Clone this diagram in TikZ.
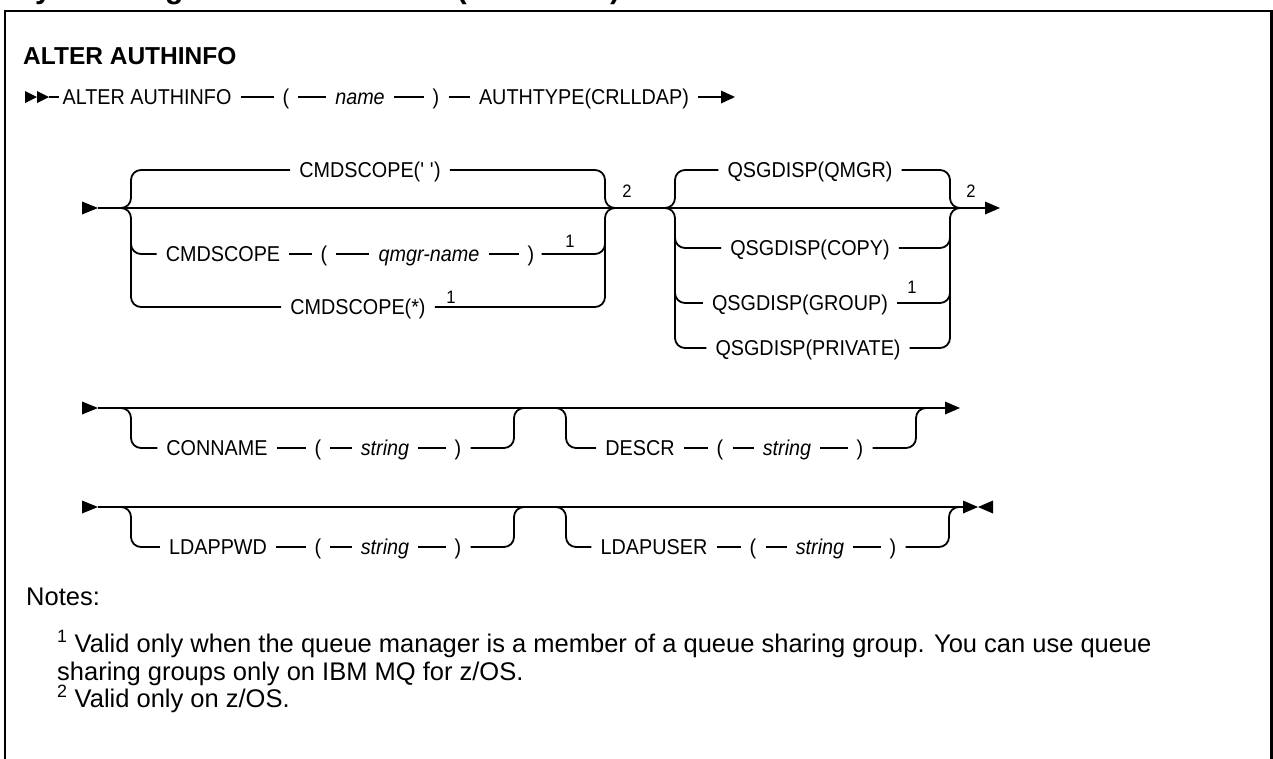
\documentclass[tikz,border=0pt]{standalone}
\usepackage{fontspec}
\setmainfont{Liberation Sans}
\newfontfamily\dgfam[FakeStretch=0.92]{Liberation Sans}
\newcommand\dgfont{\dgfam\fontsize{21.5}{26}\selectfont}
\newcommand\dgsup{\dgfam\fontsize{18}{21}\selectfont}
\newcommand\hdfont{\fontsize{24.5}{29}\selectfont\bfseries}
\newcommand\ttlfont{\fontsize{30}{36}\selectfont\bfseries}
\newcommand\ntfont{\fontsize{25.5}{30}\selectfont}
\begin{document}
\begin{tikzpicture}[x=1pt,y=-1pt,
  kw/.style={inner sep=0pt,text height=15.4pt,text depth=0pt,font=\dgfont},
  var/.style={kw,font=\dgfont\itshape},
  supn/.style={inner sep=0pt,font=\dgsup},
  txt/.style={anchor=base west,inner sep=0pt,font=\ntfont},
  ln/.style={line width=1.8pt},
  seg/.style={ln,shorten <=9pt,shorten >=9pt},
  rc/.style={ln,rounded corners=10pt}]
\useasboundingbox (0,0) rectangle (1273,758);
% frame
\draw[line width=2.5pt] (5,800) -- (5,11) -- (1271.5,11) -- (1271.5,800);
\node[anchor=base west,inner sep=0pt,font=\ttlfont] (title) at (15,-2) {Syntax diagram for AUTHTYPE(CRLLDAP)};
\node[anchor=base west,inner sep=0pt,font=\hdfont] (head) at (23,64) {ALTER AUTHINFO};

% ---------- line 1 ----------
\coordinate (m1) at (37,97);
\coordinate (m2) at (49,97);
\fill (m1) -- ++(-12,-6) -- ++(0,12) -- cycle;
\fill (m2) -- ++(-12,-6) -- ++(0,12) -- cycle;
\node[kw] (a1) at (147,97) {ALTER AUTHINFO};
\node[kw] (a2) at (286,97) {(};
\node[var] (a3) at (360,97) {name};
\node[kw] (a4) at (436,97) {)};
\node[kw] (a5) at (584,97) {AUTHTYPE(CRLLDAP)};
\coordinate (a6b) at (721,97);
\coordinate (a6) at (735,97);
\draw[ln,shorten >=3pt] (m2) -- (a1.west);
\draw[seg] (a1) -- (a2);
\draw[seg] (a2) -- (a3);
\draw[seg] (a3) -- (a4);
\draw[seg] (a4) -- (a5);
\draw[ln,shorten <=9pt] (a5.east) -- (a6b);
\fill (a6) -- ++(-14,-6.5) -- ++(0,13) -- cycle;

% ---------- line 2: CMDSCOPE / QSGDISP ----------
\coordinate (b0) at (98,208);
\coordinate (b9b) at (986,208);
\coordinate (b9) at (1000,208);
\fill (b0) -- ++(-16,-6.5) -- ++(0,13) -- cycle;
\draw[ln] (b0) -- (b9b);
\fill (b9) -- ++(-15,-6.5) -- ++(0,13) -- cycle;

% group 1
\coordinate (g1j) at (120,208);
\coordinate (g1t) at (131,170);
\coordinate (g1m) at (131,230);
\coordinate (g1b) at (131,307);
\coordinate (g1r) at (605,208);
\coordinate (g1rm) at (605,230);
\coordinate (g1o) at (616,208);
\node[kw] (c1) at (370,170) {CMDSCOPE(\textquotesingle\ \textquotesingle)};
\node[kw] (c2a) at (223,254) {CMDSCOPE};
\node[kw] (c2b) at (324,254) {(};
\node[var] (c2c) at (429,254) {qmgr-name};
\node[kw] (c2d) at (531,254) {)};
\node[supn] (c2s) at (570,241) {1};
\node[kw] (c3) at (358,307) {CMDSCOPE(*)};
\node[supn] (c3s) at (451,297) {1};
\node[supn] (g1n) at (627,191) {2};
\draw[rc,shorten >=9pt] (g1j) -| (g1t) -- (c1.west);
\draw[rc,shorten <=9pt] (c1.east) -| (g1r) -- (g1o);
\draw[rc,shorten >=9pt] (g1m) |- (c2a.west);
\draw[seg] (c2a) -- (c2b);
\draw[seg] (c2b) -- (c2c);
\draw[seg] (c2c) -- (c2d);
\draw[rc,shorten <=7pt] (c2d.east) -| (g1rm);
\draw[rc,shorten >=9pt] (g1j) -| (g1b) -- (c3.west);
\draw[rc,shorten <=9pt] (c3.east) -| (g1r) -- (g1o);

% group 2
\coordinate (g2j) at (664,208);
\coordinate (g2t) at (675,170);
\coordinate (g2m) at (675,230);
\coordinate (g2b) at (675,348);
\coordinate (g2r) at (950,208);
\coordinate (g2rm) at (950,230);
\coordinate (g2o) at (961,208);
\node[kw] (q1) at (810,170) {QSGDISP(QMGR)};
\node[kw] (q2) at (810,248) {QSGDISP(COPY)};
\node[kw] (q3) at (800,303) {QSGDISP(GROUP)};
\node[supn] (q3s) at (912,287) {1};
\node[kw] (q4) at (808,348) {QSGDISP(PRIVATE)};
\node[supn] (g2n) at (971,191) {2};
\draw[rc,shorten >=9pt] (g2j) -| (g2t) -- (q1.west);
\draw[rc,shorten <=9pt] (q1.east) -| (g2r) -- (g2o);
\draw[rc,shorten >=9pt] (g2m) |- (q2.west);
\draw[rc,shorten <=9pt] (q2.east) -| (g2rm);
\draw[rc,shorten >=9pt] (g2m) |- (q3.west);
\draw[rc,shorten <=9pt] (q3.east) -| (g2rm);
\draw[rc,shorten >=9pt] (g2j) -| (g2b) -- (q4.west);
\draw[rc,shorten <=9pt] (q4.east) -| (g2r) -- (g2o);

% ---------- line 3: CONNAME / DESCR ----------
\coordinate (d0) at (98,408);
\coordinate (d9b) at (945,408);
\coordinate (d9) at (960,408);
\fill (d0) -- ++(-16,-6.5) -- ++(0,13) -- cycle;
\draw[ln] (d0) -- (d9b);
\fill (d9) -- ++(-15,-6.5) -- ++(0,13) -- cycle;
\coordinate (d1j) at (120,408);
\coordinate (d1b) at (131,448);
\coordinate (d1r) at (514,408);
\coordinate (d1o) at (525,408);
\node[kw] (e1) at (217,448) {CONNAME};
\node[kw] (e2) at (318,448) {(};
\node[var] (e3) at (385,448) {string};
\node[kw] (e4) at (458,448) {)};
\draw[rc,shorten >=9pt] (d1j) -| (d1b) -- (e1.west);
\draw[seg] (e1) -- (e2);
\draw[seg] (e2) -- (e3);
\draw[seg] (e3) -- (e4);
\draw[rc,shorten <=9pt] (e4.east) -| (d1r) -- (d1o);
\coordinate (d2j) at (555,408);
\coordinate (d2b) at (566,448);
\coordinate (d2r) at (916,408);
\coordinate (d2o) at (927,408);
\node[kw] (f1) at (640,448) {DESCR};
\node[kw] (f2) at (720,448) {(};
\node[var] (f3) at (787,448) {string};
\node[kw] (f4) at (860,448) {)};
\draw[rc,shorten >=9pt] (d2j) -| (d2b) -- (f1.west);
\draw[seg] (f1) -- (f2);
\draw[seg] (f2) -- (f3);
\draw[seg] (f3) -- (f4);
\draw[rc,shorten <=9pt] (f4.east) -| (d2r) -- (d2o);

% ---------- line 4: LDAPPWD / LDAPUSER ----------
\coordinate (h0) at (98,507);
\coordinate (h9) at (963,507);
\coordinate (h9m) at (978,507);
\fill (h0) -- ++(-16,-6.5) -- ++(0,13) -- cycle;
\draw[ln] (h0) -- (h9);
\fill (h9m) -- ++(-15,-6.5) -- ++(0,13) -- cycle;
\fill (h9m) -- ++(15,-6.5) -- ++(0,13) -- cycle;
\coordinate (h1j) at (120,507);
\coordinate (h1b) at (131,547);
\coordinate (h1r) at (514,507);
\coordinate (h1o) at (525,507);
\node[kw] (p1) at (218,547) {LDAPPWD};
\node[kw] (p2) at (318,547) {(};
\node[var] (p3) at (385,547) {string};
\node[kw] (p4) at (458,547) {)};
\draw[rc,shorten >=9pt] (h1j) -| (h1b) -- (p1.west);
\draw[seg] (p1) -- (p2);
\draw[seg] (p2) -- (p3);
\draw[seg] (p3) -- (p4);
\draw[rc,shorten <=9pt] (p4.east) -| (h1r) -- (h1o);
\coordinate (h2j) at (555,507);
\coordinate (h2b) at (566,547);
\coordinate (h2r) at (949,507);
\coordinate (h2o) at (960,507);
\node[kw] (u1) at (654,547) {LDAPUSER};
\node[kw] (u2) at (753,547) {(};
\node[var] (u3) at (820,547) {string};
\node[kw] (u4) at (893,547) {)};
\draw[rc,shorten >=9pt] (h2j) -| (h2b) -- (u1.west);
\draw[seg] (u1) -- (u2);
\draw[seg] (u2) -- (u3);
\draw[seg] (u3) -- (u4);
\draw[rc,shorten <=9pt] (u4.east) -| (h2r) -- (h2o);

% ---------- notes ----------
\node[txt] (nt) at (26,605) {Notes:};
\node[txt] (n1) at (57,652) {\textsuperscript{1} Valid only when the queue manager is a member of a queue sharing group. You can use queue};
\node[txt] (n1b) at (57,680) {sharing groups only on IBM MQ for z/OS.};
\node[txt] (n2) at (57,707) {\textsuperscript{2} Valid only on z/OS.};
\end{tikzpicture}
\end{document}
